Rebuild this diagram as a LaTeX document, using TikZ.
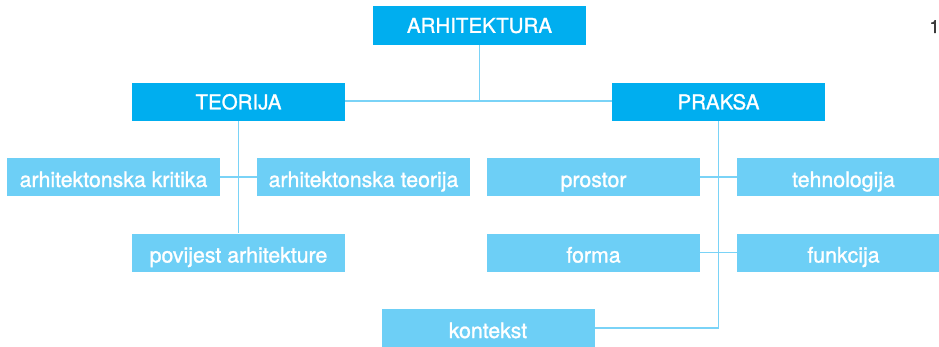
\documentclass[tikz,border=0pt]{standalone}
\usepackage{fontspec}
\setmainfont{TeX Gyre Heros}[FakeBold=1.3]
\definecolor{darkbox}{HTML}{00AEEF}
\definecolor{lightbox}{HTML}{6DCFF6}
\definecolor{linkline}{HTML}{7AD3F7}
\definecolor{pagenum}{HTML}{3A3A3A}
\begin{document}
\begin{tikzpicture}[x=1pt,y=-1pt,
  box/.style={rectangle, inner sep=0pt, minimum width=213pt, minimum height=38pt,
    text=white, text depth=0pt},
  mainbox/.style={box, fill=darkbox, text height=14.7pt, font=\fontsize{20.5}{24}\selectfont},
  subbox/.style={box, fill=lightbox, text height=20pt, font=\fontsize{21.3}{24}\selectfont},
  link/.style={draw=linkline, line width=1.6pt}]
\useasboundingbox (0,0) rectangle (939,346);
\clip (0,0) rectangle (939,346);

% top level and the two branches
\node[mainbox, minimum height=39pt] (arh) at (479.5,25.5) {ARHITEKTURA};
\node[mainbox] (teo) at (238.5,102) {TEORIJA};
\node[mainbox] (pra) at (718.5,102) {PRAKSA};

% theory branch
\node[subbox] (krit) at (113.5,177) {arhitektonska kritika};
\node[subbox] (teor) at (363.5,177) {arhitektonska teorija};
\node[subbox] (pov) at (238.5,252.5) {povijest arhitekture};

% practice branch
\node[subbox] (pros) at (593.5,177) {prostor};
\node[subbox] (tehn) at (843.5,177) {tehnologija};
\node[subbox] (form) at (593.5,252.5) {forma};
\node[subbox] (funk) at (843.5,252.5) {funkcija};
\node[subbox] (kont) at (488,328) {kontekst};

% page number
\node[text=pagenum, font=\fontsize{18}{20}\selectfont, inner sep=0pt] (num) at (934.5,26.5) {1};

% connectors
\draw[link] (arh.south) -- (arh.south |- 0,101);
\draw[link] (teo.east |- 0,101) -- (pra.west |- 0,101);
\draw[link] (teo.south) -- (pov.north);
\draw[link] (krit.east) -- (teor.west);
\draw[link] (pra.south) |- (kont.east);
\draw[link] (pros.east) -- (tehn.west);
\draw[link] (form.east) -- (funk.west);
\end{tikzpicture}
\end{document}
